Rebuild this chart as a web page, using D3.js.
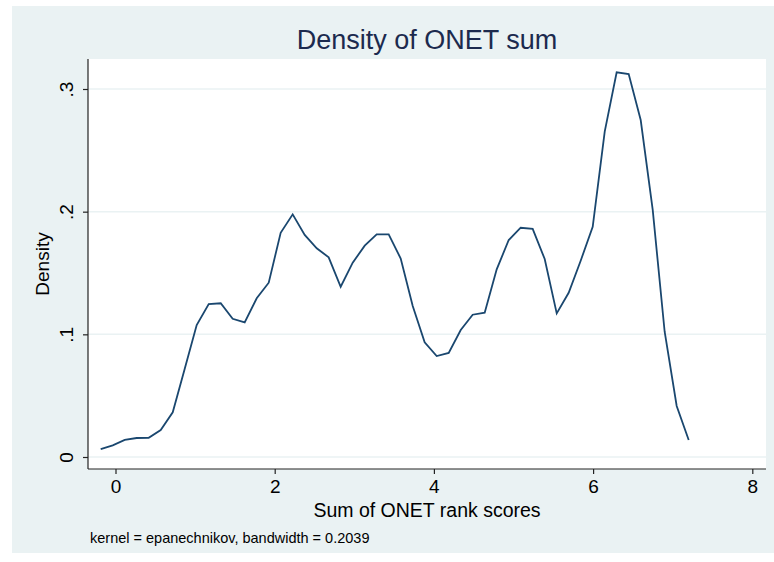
<!DOCTYPE html>
<html>
<head>
<meta charset="utf-8">
<script src="https://cdn.jsdelivr.net/npm/d3@7"></script>
<style>
	body { margin: 0; background: #ffffff; }
	svg text { font-family: "Liberation Sans", Arial, Helvetica, sans-serif; }
</style>
</head>
<body>
<div id="chart"></div>
<script>
// kdensity evaluation grid (x) and density estimates
var gridX = [-0.186, -0.035, 0.116, 0.266, 0.417, 0.568, 0.719, 0.869, 1.020, 1.171,
	1.322, 1.472, 1.623, 1.774, 1.925, 2.075, 2.226, 2.377, 2.528, 2.678,
	2.829, 2.980, 3.131, 3.281, 3.432, 3.583, 3.734, 3.884, 4.035, 4.186,
	4.337, 4.487, 4.638, 4.789, 4.940, 5.090, 5.241, 5.392, 5.543, 5.693,
	5.844, 5.995, 6.146, 6.296, 6.447, 6.598, 6.749, 6.899, 7.050, 7.201];
var density = [0.0065, 0.0095, 0.0139, 0.0155, 0.0157, 0.0220, 0.0364, 0.0717, 0.1076, 0.1247,
	0.1253, 0.1127, 0.1098, 0.1294, 0.1421, 0.1828, 0.1978, 0.1810, 0.1701, 0.1628,
	0.1388, 0.1584, 0.1723, 0.1815, 0.1815, 0.1618, 0.1231, 0.0935, 0.0823, 0.0848,
	0.1035, 0.1160, 0.1176, 0.1530, 0.1769, 0.1869, 0.1859, 0.1614, 0.1171, 0.1339,
	0.1600, 0.1877, 0.2652, 0.3136, 0.3122, 0.2747, 0.2014, 0.1021, 0.0416, 0.0139];

var xTicks = [0, 2, 4, 6, 8];
var yTicks = [0, 0.1, 0.2, 0.3];
var yTickLabels = ["0", ".1", ".2", ".3"];

var titleText = "Density of ONET sum";
var xTitle = "Sum of ONET rank scores";
var yTitle = "Density";
var noteText = "kernel = epanechnikov, bandwidth = 0.2039";

var width = 774, height = 562;
var plot = { left: 88, right: 766, top: 59, bottom: 469 };

var svg = d3.select("#chart")
	.append("svg")
	.attr("width", width)
	.attr("height", height);

// graph region
svg.append("rect")
	.attr("x", 12)
	.attr("y", 6)
	.attr("width", width - 12)
	.attr("height", 547)
	.attr("fill", "#eaf2f3");

// plot region
svg.append("rect")
	.attr("x", plot.left)
	.attr("y", plot.top)
	.attr("width", plot.right - plot.left)
	.attr("height", plot.bottom - plot.top)
	.attr("fill", "#ffffff");

var x = d3.scaleLinear()
	.domain([0, 8])
	.range([115.5, 752.3]);

var y = d3.scaleLinear()
	.domain([0, 0.3])
	.range([457, 89]);

// gridlines
svg.append("g")
	.selectAll("line")
	.data(yTicks)
	.enter()
	.append("line")
	.attr("x1", plot.left)
	.attr("x2", plot.right)
	.attr("y1", function (d) { return y(d); })
	.attr("y2", function (d) { return y(d); })
	.attr("stroke", "#eaf2f3")
	.attr("stroke-width", 1.5);

// x axis
var xAxis = svg.append("g")
	.attr("transform", "translate(0," + plot.bottom + ")")
	.call(d3.axisBottom(x).tickValues(xTicks).tickSize(5).tickPadding(6).tickFormat(d3.format("d")));
xAxis.select(".domain").remove();
xAxis.selectAll("line").attr("stroke", "#222").attr("stroke-width", 1.2);
xAxis.selectAll("text").attr("font-size", "19px").attr("fill", "#000");

// y axis
var yAxis = svg.append("g")
	.attr("transform", "translate(" + plot.left + ",0)")
	.call(d3.axisLeft(y).tickValues(yTicks).tickSize(5).tickFormat(function (d, i) { return yTickLabels[i]; }));
yAxis.select(".domain").remove();
yAxis.selectAll("line").attr("stroke", "#222").attr("stroke-width", 1.2);
yAxis.selectAll("text")
	.attr("font-size", "19px")
	.attr("fill", "#000")
	.attr("text-anchor", "middle")
	.attr("x", 0)
	.attr("y", -15)
	.attr("dy", 0)
	.attr("transform", "rotate(-90)");

// axis lines along the plot region
svg.append("line")
	.attr("x1", plot.left).attr("x2", plot.right)
	.attr("y1", plot.bottom).attr("y2", plot.bottom)
	.attr("stroke", "#222").attr("stroke-width", 1.2);
svg.append("line")
	.attr("x1", plot.left).attr("x2", plot.left)
	.attr("y1", plot.top).attr("y2", plot.bottom)
	.attr("stroke", "#222").attr("stroke-width", 1.2);

// density line
var line = d3.line()
	.x(function (d, i) { return x(gridX[i]); })
	.y(function (d) { return y(d); });

svg.append("path")
	.datum(density)
	.attr("d", line)
	.attr("fill", "none")
	.attr("stroke", "#1a476f")
	.attr("stroke-width", 1.8)
	.attr("stroke-linejoin", "miter");

// titles
svg.append("text")
	.attr("x", (plot.left + plot.right) / 2)
	.attr("y", 49)
	.attr("text-anchor", "middle")
	.attr("font-size", "27px")
	.attr("fill", "#1c2a4e")
	.text(titleText);

svg.append("text")
	.attr("x", (plot.left + plot.right) / 2)
	.attr("y", 517)
	.attr("text-anchor", "middle")
	.attr("font-size", "19.5px")
	.attr("fill", "#000")
	.text(xTitle);

svg.append("text")
	.attr("transform", "translate(49," + ((plot.top + plot.bottom) / 2) + ") rotate(-90)")
	.attr("text-anchor", "middle")
	.attr("font-size", "19px")
	.attr("fill", "#000")
	.text(yTitle);

svg.append("text")
	.attr("x", 90)
	.attr("y", 543)
	.attr("font-size", "14.5px")
	.attr("fill", "#000")
	.text(noteText);
</script>
</body>
</html>
